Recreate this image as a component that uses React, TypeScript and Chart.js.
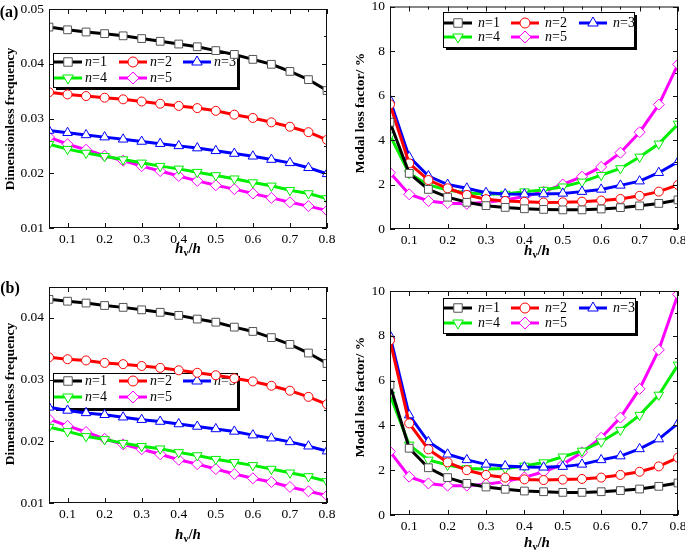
import React, { useEffect, useRef } from 'react';
import { Chart, registerables } from 'chart.js';
import { drawPoint } from 'chart.js/helpers';

Chart.register(...registerables);

// ---------------- data ----------------
const hRatio = [0.05, 0.1, 0.15, 0.2, 0.25, 0.3, 0.35, 0.4, 0.45, 0.5, 0.55, 0.6, 0.65, 0.7, 0.75, 0.8];
const xTickValues = [0.1, 0.2, 0.3, 0.4, 0.5, 0.6, 0.7, 0.8];
const freqTicksA = [0.01, 0.02, 0.03, 0.04, 0.05];
const freqTicksB = [0.01, 0.02, 0.03, 0.04];
const lossTicks = [0, 2, 4, 6, 8, 10];
const modeNames = ['1', '2', '3', '4', '5'];

// (a) dimensionless frequency
const freqA_n1 = [0.0467, 0.0462, 0.0458, 0.0455, 0.0451, 0.0446, 0.0441, 0.0436, 0.0431, 0.0424, 0.0417, 0.0408, 0.0399, 0.0386, 0.0371, 0.0351];
const freqA_n2 = [0.0348, 0.0344, 0.0341, 0.0338, 0.0335, 0.0331, 0.0327, 0.0323, 0.0319, 0.0314, 0.0307, 0.0301, 0.0293, 0.0285, 0.0275, 0.0261];
const freqA_n3 = [0.0278, 0.0274, 0.0270, 0.0266, 0.0262, 0.0258, 0.0254, 0.0250, 0.0246, 0.0241, 0.0236, 0.0231, 0.0225, 0.0219, 0.0210, 0.0199];
const freqA_n4 = [0.0253, 0.0244, 0.0237, 0.0231, 0.0225, 0.0219, 0.0213, 0.0208, 0.0202, 0.0196, 0.0190, 0.0183, 0.0177, 0.0169, 0.0163, 0.0154];
const freqA_n5 = [0.0266, 0.0253, 0.0243, 0.0232, 0.0223, 0.0213, 0.0204, 0.0195, 0.0186, 0.0178, 0.0171, 0.0163, 0.0155, 0.0147, 0.0140, 0.0132];

// (a) modal loss factor (%)
const lossA_n1 = [4.8, 2.5, 1.78, 1.43, 1.2, 1.05, 0.97, 0.91, 0.88, 0.86, 0.86, 0.9, 0.96, 1.04, 1.15, 1.31];
const lossA_n2 = [5.6, 2.95, 2.2, 1.83, 1.53, 1.34, 1.26, 1.22, 1.19, 1.2, 1.23, 1.28, 1.35, 1.49, 1.68, 1.98];
const lossA_n3 = [5.8, 3.24, 2.38, 2.0, 1.83, 1.63, 1.57, 1.56, 1.57, 1.6, 1.68, 1.78, 1.96, 2.15, 2.53, 3.02];
const lossA_n4 = [4.2, 2.5, 1.98, 1.75, 1.62, 1.57, 1.57, 1.68, 1.75, 1.9, 2.12, 2.42, 2.72, 3.24, 3.83, 4.72];
const lossA_n5 = [2.53, 1.56, 1.26, 1.16, 1.13, 1.2, 1.3, 1.46, 1.68, 2.0, 2.35, 2.79, 3.43, 4.35, 5.59, 7.4];

// (b) dimensionless frequency
const freqB_n1 = [0.0430, 0.0427, 0.0424, 0.0420, 0.0417, 0.0413, 0.0409, 0.0404, 0.0398, 0.0393, 0.0385, 0.0378, 0.0368, 0.0357, 0.0343, 0.0326];
const freqB_n2 = [0.0336, 0.0333, 0.0331, 0.0327, 0.0325, 0.0322, 0.0319, 0.0315, 0.0311, 0.0307, 0.0302, 0.0297, 0.0290, 0.0282, 0.0272, 0.0260];
const freqB_n3 = [0.0255, 0.0250, 0.0246, 0.0243, 0.0239, 0.0235, 0.0232, 0.0228, 0.0224, 0.0220, 0.0216, 0.0210, 0.0205, 0.0199, 0.0192, 0.0184];
const freqB_n4 = [0.0223, 0.0216, 0.0208, 0.0203, 0.0197, 0.0192, 0.0188, 0.0182, 0.0177, 0.0171, 0.0166, 0.0161, 0.0155, 0.0149, 0.0143, 0.0135];
const freqB_n5 = [0.0236, 0.0225, 0.0215, 0.0204, 0.0195, 0.0187, 0.0179, 0.0170, 0.0163, 0.0155, 0.0147, 0.0140, 0.0134, 0.0126, 0.0119, 0.0112];

// (b) modal loss factor (%)
const lossB_n1 = [5.8, 2.98, 2.11, 1.67, 1.41, 1.25, 1.15, 1.07, 1.04, 1.01, 1.01, 1.04, 1.09, 1.16, 1.28, 1.43];
const lossB_n2 = [7.8, 4.09, 2.93, 2.35, 2.0, 1.79, 1.67, 1.59, 1.56, 1.58, 1.61, 1.67, 1.79, 1.93, 2.17, 2.56];
const lossB_n3 = [8.0, 4.46, 3.27, 2.71, 2.46, 2.26, 2.19, 2.14, 2.13, 2.16, 2.26, 2.46, 2.63, 2.95, 3.39, 4.09];
const lossB_n4 = [5.36, 3.13, 2.46, 2.23, 2.08, 2.05, 2.08, 2.19, 2.34, 2.6, 2.86, 3.27, 3.79, 4.46, 5.36, 6.7];
const lossB_n5 = [2.83, 1.71, 1.41, 1.31, 1.31, 1.37, 1.49, 1.68, 1.93, 2.26, 2.8, 3.45, 4.35, 5.63, 7.37, 9.85];

// ---------------- styles ----------------
const FONT = "'Liberation Serif', 'Times New Roman', serif";
const lineColors = ['#000000', '#ff0000', '#0000ff', '#00ee00', '#ff00ff'];
const markerEdge = ['#555555', '#ff0000', '#0000ff', '#00ee00', '#ff00ff'];
const markerStyles = ['rect', 'circle', 'triangle', 'triangle', 'rectRot'];
const markerRot = [0, 0, 0, 180, 0];
const markerRadius = [5.5, 4.5, 5.5, 5.5, 5.5];

const midpoints = (arr: number[]) => arr.slice(0, -1).map((v, i) => (v + arr[i + 1]) / 2);

const frameTicksPlugin = {
  id: 'frameTicks',
  afterDatasetsDraw(chart: any, _args: any, opts: any) {
    const { ctx, chartArea: a, scales } = chart;
    const x = scales.x, y = scales.y;
    ctx.save();
    ctx.strokeStyle = '#111';
    ctx.lineWidth = 1;
    ctx.strokeRect(a.left + 0.5, a.top + 0.5, a.right - a.left - 1, a.bottom - a.top - 1);
    const seg = (x1: number, y1: number, x2: number, y2: number) => {
      ctx.beginPath(); ctx.moveTo(x1, y1); ctx.lineTo(x2, y2); ctx.stroke();
    };
    const maj = 5, min = 3;
    const xMaj: number[] = opts.xTicks, yMaj: number[] = opts.yTicks;
    xMaj.forEach((v) => {
      const p = Math.round(x.getPixelForValue(v)) + 0.5;
      seg(p, a.bottom, p, a.bottom - maj);
      seg(p, a.top, p, a.top + maj);
    });
    [0.05, ...midpoints(xMaj)].forEach((v) => {
      const p = Math.round(x.getPixelForValue(v)) + 0.5;
      seg(p, a.top, p, a.top + min);
    });
    yMaj.forEach((v) => {
      const p = Math.round(y.getPixelForValue(v)) + 0.5;
      seg(a.left, p, a.left + maj, p);
      seg(a.right, p, a.right - maj, p);
    });
    const yMin = midpoints(yMaj);
    if (opts.yExtraMinor != null) yMin.push(opts.yExtraMinor);
    yMin.forEach((v) => {
      const p = Math.round(y.getPixelForValue(v)) + 0.5;
      seg(a.right, p, a.right - min, p);
    });
    ctx.restore();
  },
};

const boxLegendPlugin = {
  id: 'boxLegend',
  beforeDatasetsDraw(chart: any, _args: any, o: any) {
    const { ctx } = chart;
    ctx.save();
    ctx.fillStyle = '#000';
    ctx.fillRect(o.x + 3, o.y + 3, o.w, o.h);
    ctx.fillStyle = '#fff';
    ctx.fillRect(o.x, o.y, o.w, o.h);
    ctx.strokeStyle = '#000';
    ctx.lineWidth = 1;
    ctx.strokeRect(o.x + 0.5, o.y + 0.5, o.w, o.h);
    chart.data.datasets.forEach((ds: any, i: number) => {
      const col = i % 3, row = Math.floor(i / 3);
      const mx = o.cols[col], my = o.rows[row];
      ctx.strokeStyle = ds.borderColor;
      ctx.lineWidth = 3;
      ctx.beginPath();
      ctx.moveTo(mx - 14, my);
      ctx.lineTo(mx + 14, my);
      ctx.stroke();
      ctx.fillStyle = '#fff';
      ctx.strokeStyle = ds.pointBorderColor;
      ctx.lineWidth = 1;
      drawPoint(ctx, { pointStyle: ds.pointStyle, rotation: ds.pointRotation, radius: ds.pointRadius + 0.5, borderWidth: 1 }, mx, my);
      ctx.fillStyle = '#000';
      ctx.textBaseline = 'middle';
      ctx.textAlign = 'left';
      ctx.font = `italic 14px ${FONT}`;
      const tx = mx + o.textOffset;
      ctx.fillText('n', tx, my);
      const w = ctx.measureText('n').width;
      ctx.font = `14px ${FONT}`;
      ctx.fillText('=' + modeNames[i], tx + w, my);
    });
    ctx.restore();
  },
};

type Panel = {
  series: number[][];
  yMin: number; yMax: number; yTicks: number[]; decimals: number; yExtraMinor?: number;
  w: number; h: number; yAxisW: number; padRight: number; padTop: number; xAxisH: number;
  legend: any;
};

function makeConfig(p: Panel): any {
  const tickFont = { family: FONT, size: 13.5 };
  return {
    type: 'line',
    data: {
      datasets: p.series.map((vals, i) => ({
        label: 'n=' + modeNames[i],
        data: hRatio.map((x, j) => ({ x, y: vals[j] })),
        borderColor: lineColors[i],
        borderWidth: 3,
        pointStyle: markerStyles[i],
        pointRotation: markerRot[i],
        pointRadius: markerRadius[i],
        pointBackgroundColor: '#ffffff',
        pointBorderColor: markerEdge[i],
        pointBorderWidth: 1,
        tension: 0,
        clip: 0,
      })),
    },
    options: {
      responsive: false,
      animation: false,
      events: [],
      layout: { padding: { left: 0, right: p.padRight, top: p.padTop, bottom: 0 } },
      plugins: {
        legend: { display: false },
        tooltip: { enabled: false },
        frameTicks: { xTicks: xTickValues, yTicks: p.yTicks, yExtraMinor: p.yExtraMinor },
        boxLegend: p.legend,
      },
      scales: {
        x: {
          type: 'linear', min: 0.05, max: 0.8,
          grid: { display: false, drawTicks: false }, border: { display: false },
          ticks: { font: tickFont, color: '#000', padding: 3, maxRotation: 0, autoSkip: false, callback: (v: number) => v.toFixed(1) },
          afterBuildTicks: (s: any) => { s.ticks = xTickValues.map((v) => ({ value: v })); },
          afterFit: (s: any) => { s.height = p.xAxisH; s.paddingLeft = 0; s.paddingRight = 0; },
        },
        y: {
          type: 'linear', min: p.yMin, max: p.yMax,
          grid: { display: false, drawTicks: false }, border: { display: false },
          ticks: { font: tickFont, color: '#000', padding: 5, autoSkip: false, callback: (v: number) => v.toFixed(p.decimals) },
          afterBuildTicks: (s: any) => { s.ticks = p.yTicks.map((v) => ({ value: v })); },
          afterFit: (s: any) => { s.width = p.yAxisW; s.paddingTop = 0; s.paddingBottom = 0; },
        },
      },
    },
    plugins: [boxLegendPlugin, frameTicksPlugin],
  };
}

function ChartPanel({ panel, left, top }: { panel: Panel; left: number; top: number }) {
  const ref = useRef<HTMLCanvasElement | null>(null);
  useEffect(() => {
    if (!ref.current) return;
    const c = new Chart(ref.current, makeConfig(panel));
    return () => c.destroy();
  }, []);
  return (
    <canvas
      ref={ref}
      width={panel.w}
      height={panel.h}
      style={{ position: 'absolute', left, top, width: panel.w, height: panel.h }}
    />
  );
}

const panelA: Panel = {
  series: [freqA_n1, freqA_n2, freqA_n3, freqA_n4, freqA_n5],
  yMin: 0.01, yMax: 0.05, yTicks: freqTicksA, decimals: 2,
  w: 340, h: 275, yAxisW: 49, padRight: 13, padTop: 9, xAxisH: 47,
  legend: { x: 53, y: 53, w: 184, h: 34, rows: [62, 78], cols: [68, 133, 197], textOffset: 17 },
};
const panelB: Panel = {
  series: [lossA_n1, lossA_n2, lossA_n3, lossA_n4, lossA_n5],
  yMin: 0, yMax: 10, yTicks: lossTicks, decimals: 0,
  w: 345, h: 275, yAxisW: 50, padRight: 7, padTop: 6, xAxisH: 46,
  legend: { x: 103, y: 12, w: 191, h: 35, rows: [23, 37], cols: [118, 185, 253], textOffset: 20 },
};
const panelC: Panel = {
  series: [freqB_n1, freqB_n2, freqB_n3, freqB_n4, freqB_n5],
  yMin: 0.01, yMax: 0.045, yTicks: freqTicksB, decimals: 2, yExtraMinor: 0.045,
  w: 340, h: 277, yAxisW: 49, padRight: 13, padTop: 12, xAxisH: 49,
  legend: { x: 53, y: 98, w: 184, h: 35, rows: [106, 122], cols: [68, 133, 197], textOffset: 17 },
};
const panelD: Panel = {
  series: [lossB_n1, lossB_n2, lossB_n3, lossB_n4, lossB_n5],
  yMin: 0, yMax: 10, yTicks: lossTicks, decimals: 0,
  w: 345, h: 277, yAxisW: 50, padRight: 7, padTop: 16, xAxisH: 37,
  legend: { x: 103, y: 23, w: 192, h: 35, rows: [33, 48], cols: [118, 185, 253], textOffset: 20 },
};

const abs = (left: number, top: number): React.CSSProperties => ({
  position: 'absolute', left, top, transform: 'translate(-50%, -50%)', whiteSpace: 'nowrap', fontFamily: FONT, color: '#000', lineHeight: 1,
});

function XTitle({ x, y }: { x: number; y: number }) {
  return (
    <div style={{ ...abs(x, y), fontWeight: 'bold', fontSize: 15 }}>
      <i>h</i><sub style={{ fontSize: 10, verticalAlign: -3 }}>v</sub>/<i>h</i>
    </div>
  );
}

function YTitle({ x, y, text }: { x: number; y: number; text: string }) {
  return (
    <div style={{ ...abs(x, y), transform: 'translate(-50%, -50%) rotate(-90deg)', fontWeight: 'bold', fontSize: 13.5 }}>
      {text}
    </div>
  );
}

export default function App() {
  return (
    <div style={{ position: 'absolute', left: 0, top: 0, width: 685, height: 552, background: '#fff', overflow: 'hidden' }}>
      <ChartPanel panel={panelA} left={0} top={0} />
      <ChartPanel panel={panelB} left={340} top={0} />
      <ChartPanel panel={panelC} left={0} top={275} />
      <ChartPanel panel={panelD} left={340} top={275} />
      <div style={{ ...abs(9, 12), fontWeight: 'bold', fontSize: 16 }}>(a)</div>
      <div style={{ ...abs(10, 288), fontWeight: 'bold', fontSize: 16 }}>(b)</div>
      <YTitle x={10} y={119} text="Dimensionless frequency" />
      <YTitle x={360} y={113} text="Modal loss factor/ %" />
      <YTitle x={10} y={394} text="Dimensionless frequency" />
      <YTitle x={360} y={397} text="Modal loss factor/ %" />
      <XTitle x={188} y={249} />
      <XTitle x={537} y={251} />
      <XTitle x={188} y={535} />
      <XTitle x={537} y={543} />
    </div>
  );
}
